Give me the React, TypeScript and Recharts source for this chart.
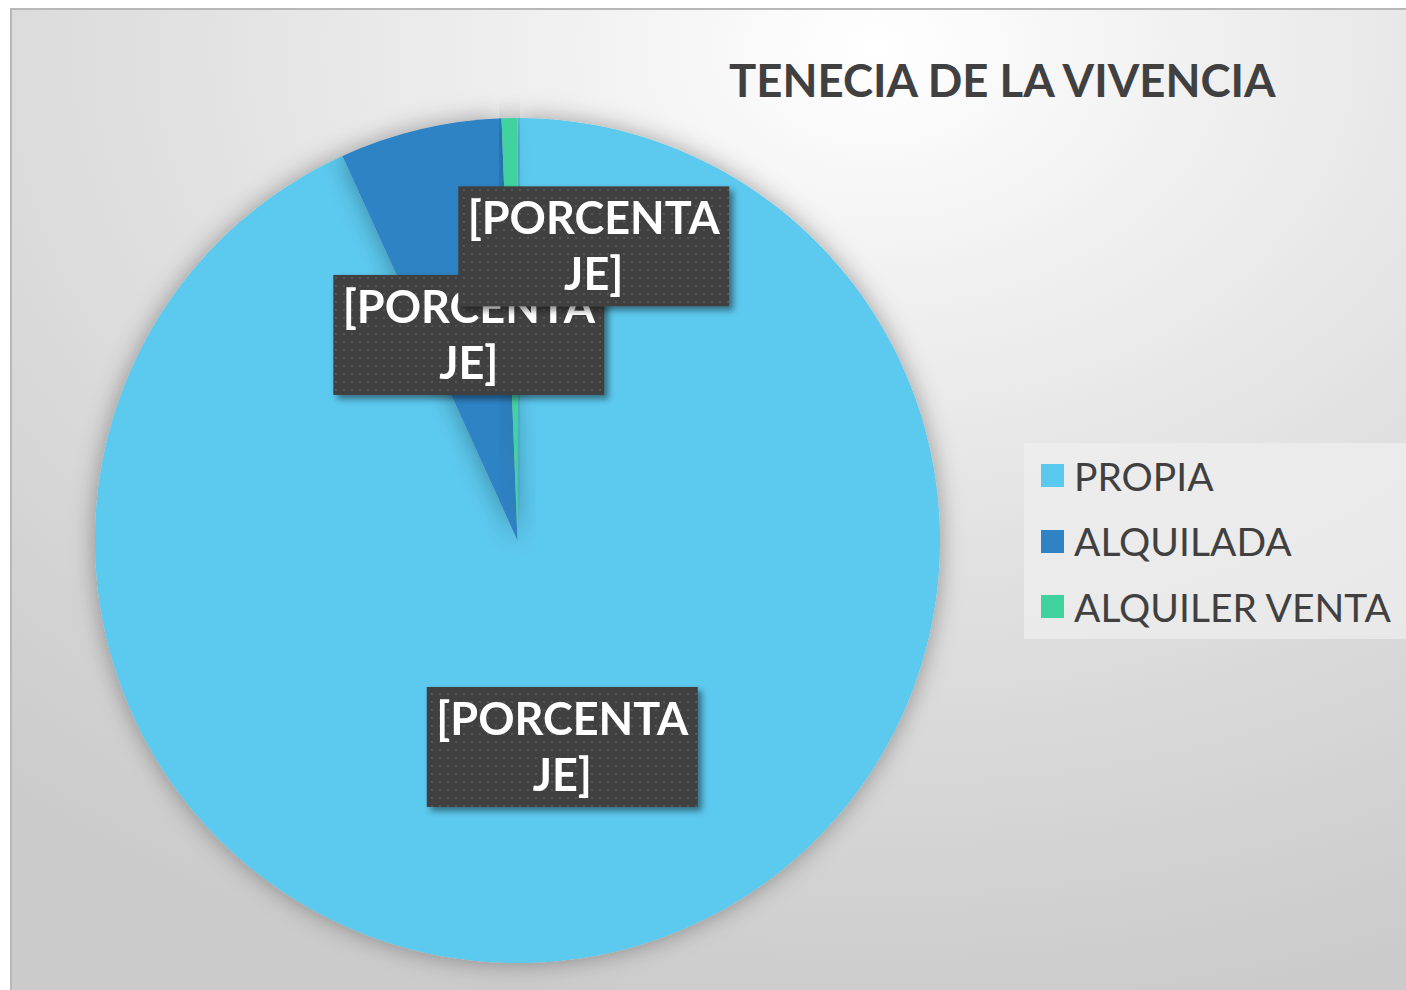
import React from "react";
import { PieChart, Pie, Cell, Legend } from "recharts";

const categories = ["PROPIA", "ALQUILADA", "ALQUILER VENTA"];
const values = [93.2, 6.2, 0.6];
const colors = ["#5BC9EE", "#2E83C4", "#3FD29F"];
const titleText = "TENECIA DE LA VIVENCIA";
const labelLines = ["[PORCENTA", "JE]"];

const data = categories.map((name, i) => ({ name, value: values[i] }));

const W = 1396;
const H = 982;
const RAD = Math.PI / 180;
const FONT = "Lato, 'Open Sans', sans-serif";

const renderLabel = (props: any) => {
  const { cx, cy, midAngle, outerRadius, index } = props;
  const isSmall = index === 2;
  const r = outerRadius * (isSmall ? 0.72 : 0.5);
  let x = cx + r * Math.cos(-midAngle * RAD);
  let y = cy + r * Math.sin(-midAngle * RAD);
  if (isSmall) {
    x += 82;
    y += 10;
  }
  const bw = 271;
  const bh = 120;
  return (
    <g key={`lbl-${index}`} filter="url(#lblShadow)">
      <rect x={x - bw / 2} y={y - bh / 2} width={bw} height={bh} fill="#404040" />
      <rect x={x - bw / 2} y={y - bh / 2} width={bw} height={bh} fill="url(#dots)" />
      <text
        x={x}
        y={y - 12}
        textAnchor="middle"
        fill="#ffffff"
        fontFamily={FONT}
        fontWeight={700}
        fontSize={45}
      >
        {labelLines[0]}
      </text>
      <text
        x={x}
        y={y + 44}
        textAnchor="middle"
        fill="#ffffff"
        fontFamily={FONT}
        fontWeight={700}
        fontSize={45}
      >
        {labelLines[1]}
      </text>
    </g>
  );
};

const renderLegend = () => {
  return (
    <div
      style={{
        background: "rgba(240,240,240,0.7)",
        width: 382,
        height: 196,
        boxSizing: "border-box",
        paddingLeft: 17,
        paddingTop: 0,
      }}
    >
      {categories.map((name, i) => (
        <div
          key={name}
          style={{ display: "flex", alignItems: "center", height: 65.5 }}
        >
          <div style={{ width: 23, height: 23, background: colors[i], marginRight: 10 }} />
          <span
            style={{
              fontFamily: FONT,
              fontSize: 39,
              color: "#404040",
              lineHeight: "40px",
              whiteSpace: "nowrap",
            }}
          >
            {name}
          </span>
        </div>
      ))}
    </div>
  );
};

export default function App() {
  return (
    <div
      style={{
        position: "absolute",
        left: 10,
        top: 8,
        width: W,
        height: H,
        boxSizing: "border-box",
        borderTop: "2px solid #b8b8b8",
        borderLeft: "2px solid #b8b8b8",
        background:
          "radial-gradient(ellipse 95% 100% at 62% 4%, #ffffff 0%, #f0f0f0 25%, #e0e0e0 55%, #cbcbcb 100%)",
        overflow: "hidden",
      }}
    >
      <svg width={0} height={0} style={{ position: "absolute" }}>
        <defs>
          <pattern id="dots" width={8} height={8} patternUnits="userSpaceOnUse">
            <circle cx={4} cy={4} r={1.1} fill="#5a5a5a" />
          </pattern>
          <filter id="lblShadow" x="-20%" y="-20%" width="140%" height="150%">
            <feDropShadow dx={4} dy={4} stdDeviation={3} floodColor="#000" floodOpacity={0.45} />
          </filter>
          <filter id="pieShadow" x="-10%" y="-10%" width="120%" height="120%">
            <feDropShadow dx={0} dy={0} stdDeviation={12} floodColor="#000" floodOpacity={0.35} />
          </filter>
        </defs>
      </svg>
      <div
        style={{
          position: "absolute",
          left: 717,
          top: 42,
          fontFamily: FONT,
          fontWeight: 700,
          fontSize: 45.5,
          color: "#404040",
          whiteSpace: "nowrap",
          zIndex: 2,
        }}
      >
        {titleText}
      </div>
      <PieChart width={W} height={H} margin={{ top: 0, right: 0, bottom: 0, left: 0 }}>
        <Pie
          data={data}
          dataKey="value"
          nameKey="name"
          cx={505.5}
          cy={530.5}
          outerRadius={422.5}
          startAngle={90}
          endAngle={-270}
          stroke="none"
          isAnimationActive={false}
          label={renderLabel}
          labelLine={false}
          style={{ filter: "url(#pieShadow)" }}
        >
          {data.map((d, i) => (
            <Cell key={d.name} fill={colors[i]} />
          ))}
        </Pie>
        <Legend
          layout="vertical"
          verticalAlign="top"
          align="right"
          content={renderLegend}
          wrapperStyle={{ position: "absolute", left: 1012, top: 433, width: 382 }}
        />
      </PieChart>
    </div>
  );
}
